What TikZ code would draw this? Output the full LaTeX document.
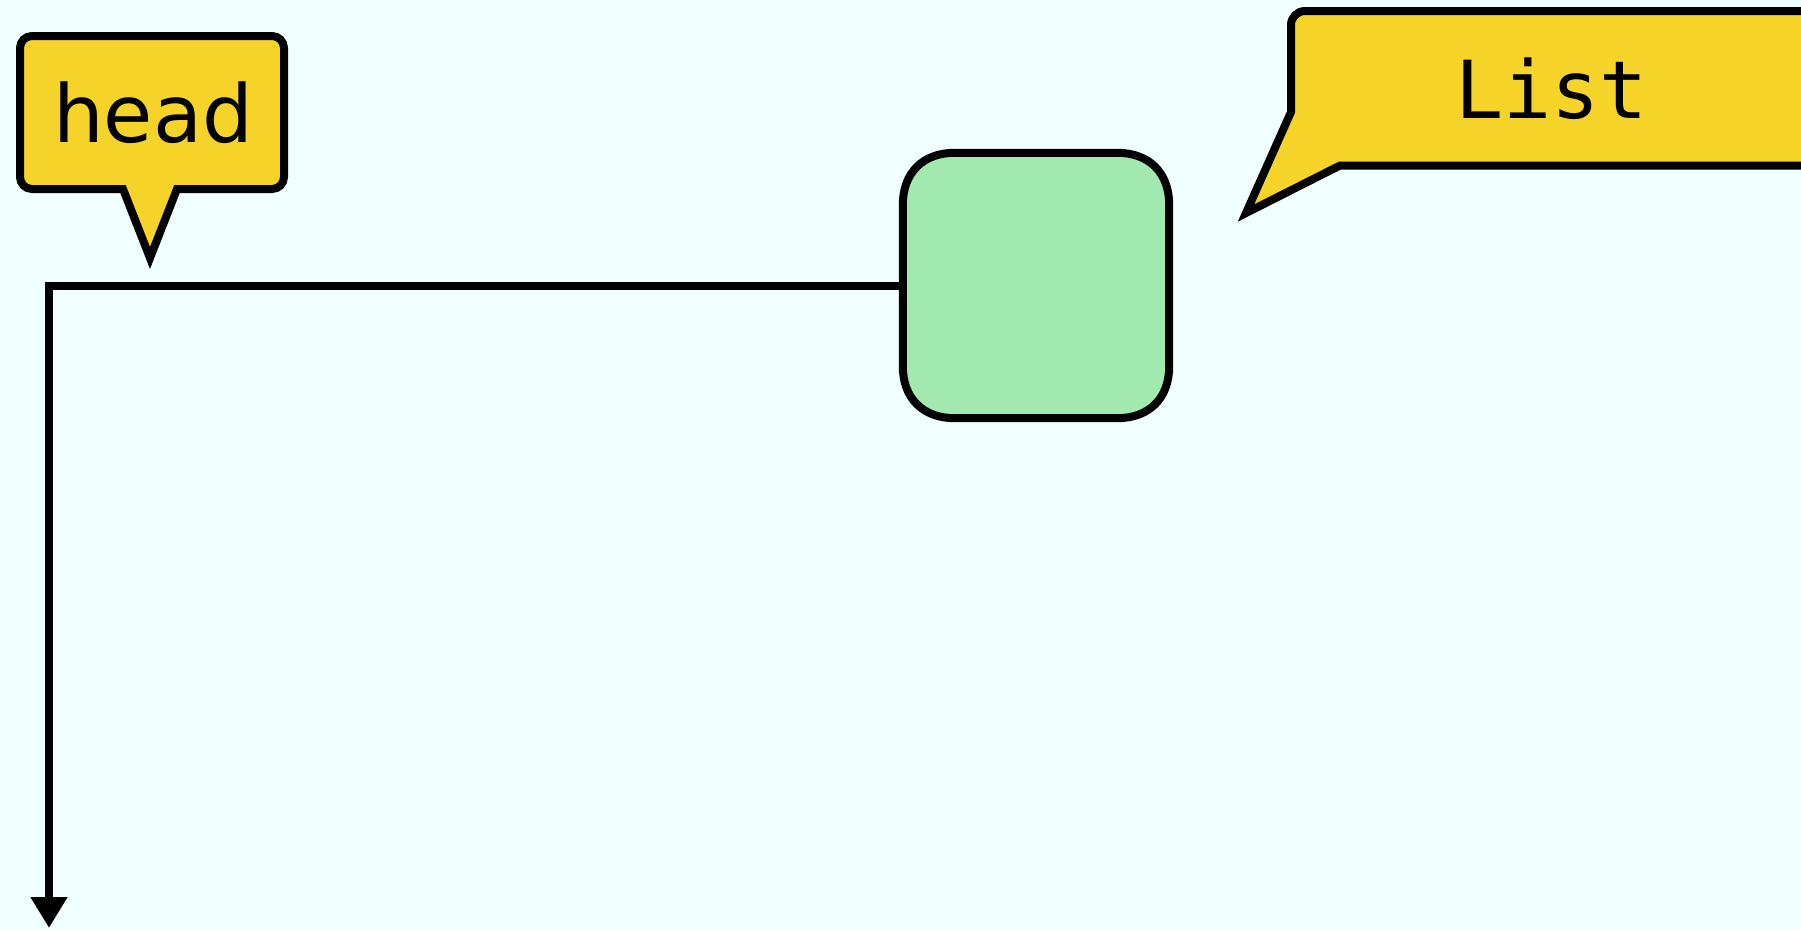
\documentclass[tikz,border=0pt]{standalone}
\usepackage{fontspec}
\setmainfont{DejaVu Sans}
\newfontfamily\monofont{DejaVu Sans Mono}
\usetikzlibrary{arrows.meta,calc}
\definecolor{bgcol}{HTML}{F0FFFF}
\definecolor{notecol}{HTML}{F6D328}
\definecolor{cellcol}{HTML}{A1E9AE}
\tikzset{
  outline/.style={draw=black, line width=8pt, line join=miter},
  calloutpath/.style={outline, fill=notecol},
  labeltext/.style={anchor=base, inner sep=0pt, font=\fontsize{80}{96}\selectfont},
  cellbox/.style={inner sep=0pt, minimum width=266pt, minimum height=265pt},
  cellshape/.style={outline, fill=cellcol},
  link/.style={draw=black, line width=8pt, line join=miter,
    -{Triangle[width=35pt,length=31pt]}}
}
\begin{document}
\begin{tikzpicture}[x=1pt, y=-1pt]
  \useasboundingbox (0,0) rectangle (1801,929);
  \clip (0,0) rectangle (1801,929);
  \fill[bgcol] (0,0) rectangle (1801,929);

  % "head" callout pointing down at the link
  \path[calloutpath] (123,189) -- (150,258) -- (177,189)
    {[rounded corners=12pt] -- (284,189) -- (284,36) -- (20,36) -- (20,189)} -- cycle;
  \node[labeltext] (head) at (153,142) {head};

  % "List" callout pointing at the cell
  \path[calloutpath] (1291,112) -- (1246,213) -- (1340,165.5) -- (1860,165.5) -- (1860,11)
    {[rounded corners=14pt] -- (1291,11)} -- cycle;
  \node[labeltext, font=\monofont\fontsize{80}{96}\selectfont] (list) at (1551.5,118) {List};

  % list cell: smooth corners drawn around the node
  \node[cellbox] (cell) at (1036,285.5) {};
  \path[cellshape]
    ($(cell.north west)+(0,52)$)
      .. controls ($(cell.north west)+(0,20)$) and ($(cell.north west)+(20,0)$) .. ($(cell.north west)+(52,0)$)
    -- ($(cell.north east)+(-52,0)$)
      .. controls ($(cell.north east)+(-20,0)$) and ($(cell.north east)+(0,20)$) .. ($(cell.north east)+(0,52)$)
    -- ($(cell.south east)+(0,-52)$)
      .. controls ($(cell.south east)+(0,-20)$) and ($(cell.south east)+(-20,0)$) .. ($(cell.south east)+(-52,0)$)
    -- ($(cell.south west)+(52,0)$)
      .. controls ($(cell.south west)+(20,0)$) and ($(cell.south west)+(0,-20)$) .. ($(cell.south west)+(0,-52)$)
    -- cycle;

  % link from the cell down to the end of the list
  \coordinate (tail) at (49,928);
  \draw[link] (cell.west) -| (tail);
\end{tikzpicture}
\end{document}
